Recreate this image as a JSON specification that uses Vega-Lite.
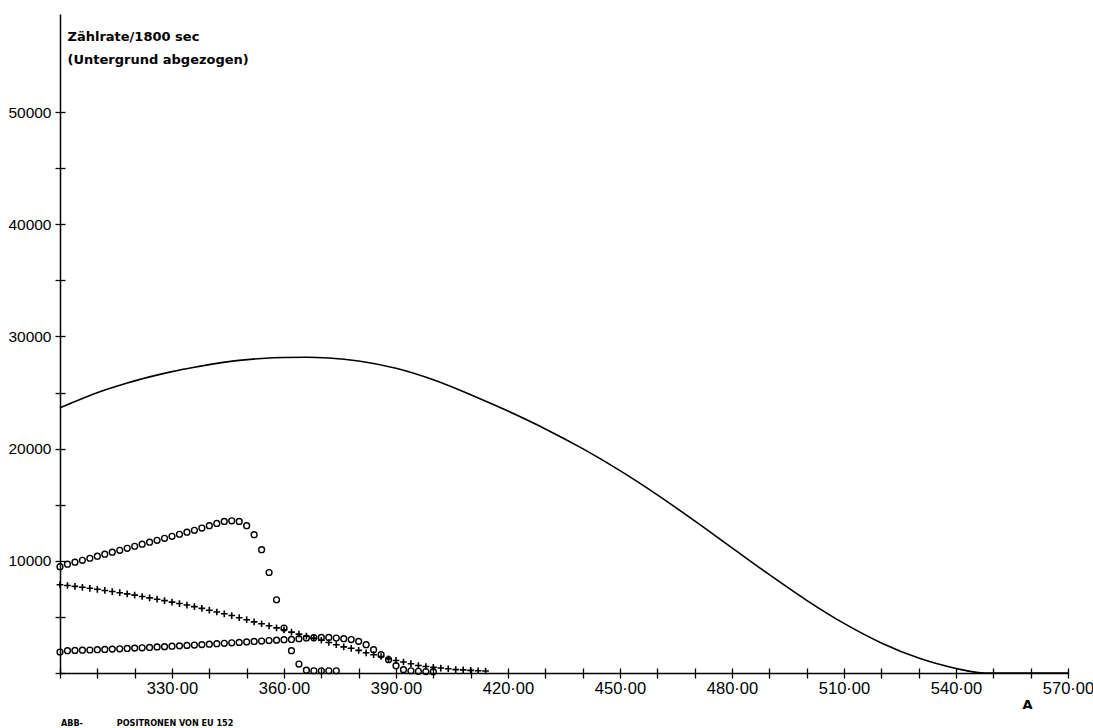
{
  "$schema": "https://vega.github.io/schema/vega-lite/v6.json",
  "width": 1008,
  "height": 659,
  "autosize": {"type": "none"},
  "padding": {"left": 60, "top": 14, "right": 25, "bottom": 55},
  "background": "white",
  "config": {
    "view": {"stroke": null},
    "axis": {"grid": false, "labelColor": "black", "tickColor": "black", "domainColor": "black", "titleColor": "black"}
  },
  "title": {
    "text": "ABB-\u00a0\u00a0\u00a0\u00a0\u00a0\u00a0\u00a0\u00a0\u00a0\u00a0\u00a0\u00a0POSITRONEN VON EU 152",
    "orient": "bottom",
    "anchor": "start",
    "frame": "group",
    "font": "DejaVu Sans Condensed",
    "fontSize": 9,
    "fontWeight": "bold",
    "color": "black",
    "offset": 8,
    "dx": 1
  },
  "datasets": {
    "kurve": [
      {"A": 300, "N": 23650}, {"A": 306, "N": 24480}, {"A": 312, "N": 25220}, {"A": 318, "N": 25860},
      {"A": 324, "N": 26400}, {"A": 330, "N": 26870}, {"A": 336, "N": 27260}, {"A": 342, "N": 27600},
      {"A": 348, "N": 27870}, {"A": 354, "N": 28040}, {"A": 360, "N": 28130}, {"A": 366, "N": 28150},
      {"A": 372, "N": 28080}, {"A": 380, "N": 27810}, {"A": 390, "N": 27160}, {"A": 400, "N": 26135},
      {"A": 410, "N": 24810}, {"A": 420, "N": 23350}, {"A": 430, "N": 21760}, {"A": 440, "N": 20000},
      {"A": 450, "N": 18040}, {"A": 460, "N": 15880}, {"A": 470, "N": 13560}, {"A": 480, "N": 11160},
      {"A": 490, "N": 8770}, {"A": 500, "N": 6480}, {"A": 510, "N": 4420}, {"A": 520, "N": 2680},
      {"A": 530, "N": 1330}, {"A": 540, "N": 400}, {"A": 543, "N": 190}, {"A": 546, "N": 50},
      {"A": 549, "N": 0}, {"A": 560, "N": 0}, {"A": 570, "N": 0}
    ],
    "punkte": [
      {"A": 300, "N": 9480, "s": "o1"}, {"A": 302, "N": 9700, "s": "o1"}, {"A": 304, "N": 9880, "s": "o1"},
      {"A": 306, "N": 10050, "s": "o1"}, {"A": 308, "N": 10230, "s": "o1"}, {"A": 310, "N": 10410, "s": "o1"},
      {"A": 312, "N": 10590, "s": "o1"}, {"A": 314, "N": 10770, "s": "o1"}, {"A": 316, "N": 10940, "s": "o1"},
      {"A": 318, "N": 11120, "s": "o1"}, {"A": 320, "N": 11300, "s": "o1"}, {"A": 322, "N": 11480, "s": "o1"},
      {"A": 324, "N": 11660, "s": "o1"}, {"A": 326, "N": 11830, "s": "o1"}, {"A": 328, "N": 12010, "s": "o1"},
      {"A": 330, "N": 12190, "s": "o1"}, {"A": 332, "N": 12370, "s": "o1"}, {"A": 334, "N": 12550, "s": "o1"},
      {"A": 336, "N": 12720, "s": "o1"}, {"A": 338, "N": 12920, "s": "o1"}, {"A": 340, "N": 13130, "s": "o1"},
      {"A": 342, "N": 13330, "s": "o1"}, {"A": 344, "N": 13510, "s": "o1"}, {"A": 346, "N": 13570, "s": "o1"},
      {"A": 348, "N": 13510, "s": "o1"}, {"A": 350, "N": 13130, "s": "o1"}, {"A": 352, "N": 12330, "s": "o1"},
      {"A": 354, "N": 10990, "s": "o1"}, {"A": 356, "N": 8960, "s": "o1"}, {"A": 358, "N": 6530, "s": "o1"},
      {"A": 360, "N": 4010, "s": "o1"}, {"A": 362, "N": 1990, "s": "o1"}, {"A": 364, "N": 800, "s": "o1"},
      {"A": 366, "N": 250, "s": "o1"}, {"A": 368, "N": 200, "s": "o1"}, {"A": 370, "N": 200, "s": "o1"},
      {"A": 372, "N": 200, "s": "o1"}, {"A": 374, "N": 200, "s": "o1"},

      {"A": 300, "N": 7870, "s": "p"}, {"A": 302, "N": 7800, "s": "p"}, {"A": 304, "N": 7720, "s": "p"},
      {"A": 306, "N": 7640, "s": "p"}, {"A": 308, "N": 7550, "s": "p"}, {"A": 310, "N": 7460, "s": "p"},
      {"A": 312, "N": 7360, "s": "p"}, {"A": 314, "N": 7260, "s": "p"}, {"A": 316, "N": 7160, "s": "p"},
      {"A": 318, "N": 7050, "s": "p"}, {"A": 320, "N": 6940, "s": "p"}, {"A": 322, "N": 6820, "s": "p"},
      {"A": 324, "N": 6700, "s": "p"}, {"A": 326, "N": 6580, "s": "p"}, {"A": 328, "N": 6450, "s": "p"},
      {"A": 330, "N": 6320, "s": "p"}, {"A": 332, "N": 6190, "s": "p"}, {"A": 334, "N": 6060, "s": "p"},
      {"A": 336, "N": 5920, "s": "p"}, {"A": 338, "N": 5760, "s": "p"}, {"A": 340, "N": 5600, "s": "p"},
      {"A": 342, "N": 5440, "s": "p"}, {"A": 344, "N": 5280, "s": "p"}, {"A": 346, "N": 5120, "s": "p"},
      {"A": 348, "N": 4930, "s": "p"}, {"A": 350, "N": 4750, "s": "p"}, {"A": 352, "N": 4560, "s": "p"},
      {"A": 354, "N": 4390, "s": "p"}, {"A": 356, "N": 4210, "s": "p"}, {"A": 358, "N": 4020, "s": "p"},
      {"A": 360, "N": 3850, "s": "p"}, {"A": 362, "N": 3640, "s": "p"}, {"A": 364, "N": 3470, "s": "p"},
      {"A": 366, "N": 3280, "s": "p"}, {"A": 368, "N": 3110, "s": "p"}, {"A": 370, "N": 2920, "s": "p"},
      {"A": 372, "N": 2720, "s": "p"}, {"A": 374, "N": 2520, "s": "p"}, {"A": 376, "N": 2330, "s": "p"},
      {"A": 378, "N": 2200, "s": "p"}, {"A": 380, "N": 2020, "s": "p"}, {"A": 382, "N": 1800, "s": "p"},
      {"A": 384, "N": 1630, "s": "p"}, {"A": 386, "N": 1470, "s": "p"}, {"A": 388, "N": 1260, "s": "p"},
      {"A": 390, "N": 1120, "s": "p"}, {"A": 392, "N": 980, "s": "p"}, {"A": 394, "N": 830, "s": "p"},
      {"A": 396, "N": 670, "s": "p"}, {"A": 398, "N": 580, "s": "p"}, {"A": 400, "N": 500, "s": "p"},
      {"A": 402, "N": 440, "s": "p"}, {"A": 404, "N": 380, "s": "p"}, {"A": 406, "N": 300, "s": "p"},
      {"A": 408, "N": 280, "s": "p"}, {"A": 410, "N": 230, "s": "p"}, {"A": 412, "N": 200, "s": "p"},
      {"A": 414, "N": 180, "s": "p"},

      {"A": 300, "N": 1870, "s": "o2"}, {"A": 302, "N": 1990, "s": "o2"}, {"A": 304, "N": 2010, "s": "o2"},
      {"A": 306, "N": 2030, "s": "o2"}, {"A": 308, "N": 2050, "s": "o2"}, {"A": 310, "N": 2080, "s": "o2"},
      {"A": 312, "N": 2100, "s": "o2"}, {"A": 314, "N": 2130, "s": "o2"}, {"A": 316, "N": 2160, "s": "o2"},
      {"A": 318, "N": 2190, "s": "o2"}, {"A": 320, "N": 2220, "s": "o2"}, {"A": 322, "N": 2250, "s": "o2"},
      {"A": 324, "N": 2280, "s": "o2"}, {"A": 326, "N": 2320, "s": "o2"}, {"A": 328, "N": 2350, "s": "o2"},
      {"A": 330, "N": 2390, "s": "o2"}, {"A": 332, "N": 2420, "s": "o2"}, {"A": 334, "N": 2460, "s": "o2"},
      {"A": 336, "N": 2490, "s": "o2"}, {"A": 338, "N": 2530, "s": "o2"}, {"A": 340, "N": 2570, "s": "o2"},
      {"A": 342, "N": 2610, "s": "o2"}, {"A": 344, "N": 2650, "s": "o2"}, {"A": 346, "N": 2690, "s": "o2"},
      {"A": 348, "N": 2730, "s": "o2"}, {"A": 350, "N": 2770, "s": "o2"}, {"A": 352, "N": 2810, "s": "o2"},
      {"A": 354, "N": 2850, "s": "o2"}, {"A": 356, "N": 2890, "s": "o2"}, {"A": 358, "N": 2930, "s": "o2"},
      {"A": 360, "N": 2970, "s": "o2"}, {"A": 362, "N": 2990, "s": "o2"}, {"A": 364, "N": 3060, "s": "o2"},
      {"A": 366, "N": 3120, "s": "o2"}, {"A": 368, "N": 3150, "s": "o2"}, {"A": 370, "N": 3170, "s": "o2"},
      {"A": 372, "N": 3170, "s": "o2"}, {"A": 374, "N": 3120, "s": "o2"}, {"A": 376, "N": 3060, "s": "o2"},
      {"A": 378, "N": 2980, "s": "o2"}, {"A": 380, "N": 2820, "s": "o2"}, {"A": 382, "N": 2520, "s": "o2"},
      {"A": 384, "N": 2080, "s": "o2"}, {"A": 386, "N": 1630, "s": "o2"}, {"A": 388, "N": 1190, "s": "o2"},
      {"A": 390, "N": 650, "s": "o2"}, {"A": 392, "N": 300, "s": "o2"}, {"A": 394, "N": 200, "s": "o2"},
      {"A": 396, "N": 150, "s": "o2"}, {"A": 398, "N": 130, "s": "o2"}, {"A": 400, "N": 120, "s": "o2"}
    ]
  },
  "layer": [
    {
      "data": {"name": "kurve"},
      "mark": {"type": "line", "color": "black", "strokeWidth": 1.6, "interpolate": "monotone"},
      "encoding": {
        "x": {
          "field": "A", "type": "quantitative",
          "scale": {"domain": [300, 570], "nice": false, "zero": false},
          "axis": {
            "orient": "bottom",
            "values": [330, 360, 390, 420, 450, 480, 510, 540, 570],
            "labelExpr": "replace(format(datum.value, '.2f'), '.', '·')",
            "ticks": false, "tickSize": 0, "labelPadding": 7, "labelDx": -4,
            "domain": true, "domainWidth": 1.5,
            "labelFont": "Liberation Sans", "labelFontSize": 16.5,
            "labelFlush": false, "labelOverlap": false, "labelBaseline": "top",
            "title": "A", "titleFont": "DejaVu Sans", "titleFontSize": 13, "titleFontWeight": "bold",
            "titleX": 967, "titleY": 35, "titleAlign": "center", "titleBaseline": "alphabetic"
          }
        },
        "y": {
          "field": "N", "type": "quantitative",
          "scale": {"domain": [0, 58750], "nice": false},
          "axis": {
            "orient": "left",
            "values": [10000, 20000, 30000, 40000, 50000],
            "format": "d",
            "ticks": false, "tickSize": 0, "labelPadding": 9,
            "domain": true, "domainWidth": 1.5,
            "labelFont": "Liberation Sans", "labelFontSize": 15.5,
            "labelFlush": false, "labelOverlap": false,
            "title": ["Zählrate/1800 sec", "(Untergrund abgezogen)"],
            "titleFont": "DejaVu Sans", "titleFontSize": 13, "titleFontWeight": "bold",
            "titleAngle": 0, "titleAlign": "left", "titleBaseline": "alphabetic",
            "titleLineHeight": 23, "titleX": 7, "titleY": 26
          }
        }
      }
    },
    {
      "data": {"name": "punkte"},
      "transform": [{"filter": "datum.s === 'o1'"}],
      "mark": {"type": "point", "shape": "circle", "filled": false, "stroke": "black", "strokeWidth": 1.4, "size": 34, "opacity": 1},
      "encoding": {
        "x": {
          "field": "A", "type": "quantitative",
          "axis": {
            "orient": "bottom", "offset": -5, "tickSize": 10, "tickWidth": 1.3,
            "values": [300, 310, 320, 330, 340, 350, 360, 370, 380, 390, 400, 410, 420, 430, 440, 450, 460, 470, 480, 490, 500, 510, 520, 530, 540, 550, 560, 570],
            "labels": false, "domain": false, "title": null
          }
        },
        "y": {
          "field": "N", "type": "quantitative",
          "axis": {
            "orient": "left", "offset": -5, "tickSize": 10, "tickWidth": 1.3,
            "values": [0, 5000, 10000, 15000, 20000, 25000, 30000, 35000, 40000, 45000, 50000],
            "labels": false, "domain": false, "title": null
          }
        }
      }
    },
    {
      "data": {"name": "punkte"},
      "transform": [{"filter": "datum.s === 'o2'"}],
      "mark": {"type": "point", "shape": "circle", "filled": false, "stroke": "black", "strokeWidth": 1.4, "size": 34, "opacity": 1},
      "encoding": {
        "x": {"field": "A", "type": "quantitative", "axis": null},
        "y": {"field": "N", "type": "quantitative", "axis": null}
      }
    },
    {
      "data": {"name": "punkte"},
      "transform": [{"filter": "datum.s === 'p'"}],
      "mark": {"type": "point", "shape": "M-1,0H1M0,-1V1", "filled": false, "stroke": "black", "strokeWidth": 1.6, "size": 45, "opacity": 1},
      "encoding": {
        "x": {"field": "A", "type": "quantitative", "axis": null},
        "y": {"field": "N", "type": "quantitative", "axis": null}
      }
    }
  ],
  "resolve": {"axis": {"x": "independent", "y": "independent"}}
}
